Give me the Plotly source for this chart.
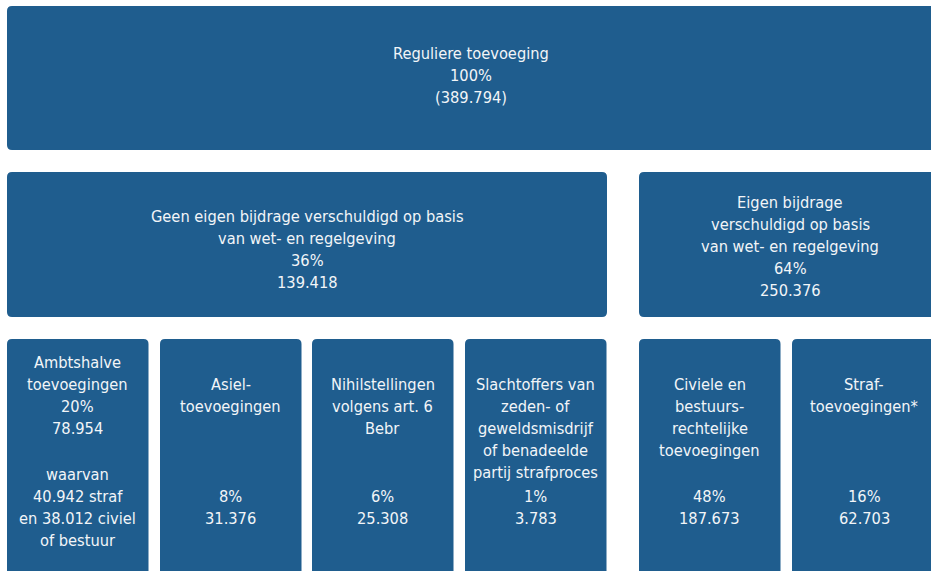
import plotly.graph_objects as go

# ---------------- data ----------------
labels = [
    "Reguliere toevoeging",
    "Geen eigen bijdrage verschuldigd op basis|van wet- en regelgeving",
    "Eigen bijdrage|verschuldigd op basis|van wet- en regelgeving",
    "Ambtshalve|toevoegingen",
    "Asiel-|toevoegingen",
    "Nihilstellingen|volgens art. 6|Bebr",
    "Slachtoffers van|zeden- of|geweldsmisdrijf|of benadeelde|partij strafproces",
    "Civiele en|bestuurs-|rechtelijke|toevoegingen",
    "Straf-|toevoegingen*",
]
percentages = [100, 36, 64, 20, 8, 6, 1, 48, 16]
counts = ["(389.794)", "139.418", "250.376", "78.954", "31.376", "25.308", "3.783", "187.673", "62.703"]
notes = ["", "", "", "waarvan|40.942 straf|en 38.012 civiel|of bestuur", "", "", "", "", ""]

# ---------------- layout (pixel grid) ----------------
W, H = 931, 571
# x0, x1, y0, y1, first label line y, first value line y, first note line y
boxes = [
    (7, 935, 6, 150, 53, 75, None),
    (7, 607, 172, 317, 216, 260, None),
    (639, 941, 172, 317, 202, 268, None),
    (7, 148.5, 339, 590, 362, 406, 474),
    (160, 301.5, 339, 590, 384, 496, None),
    (312, 453.5, 339, 590, 384, 496, None),
    (465, 606.5, 339, 590, 384, 496, None),
    (639, 780.5, 339, 590, 384, 496, None),
    (792, 936, 339, 590, 384, 496, None),
]
LINE = 22
R = 5
BOX_COLOR = "#1f5d8e"
TEXT_COLOR = "#f2f5f8"
FONT = "DejaVu Sans Condensed, DejaVu Sans, sans-serif"
FSIZE = 16.3


def rounded(x0, x1, y0, y1, r):
    return (f"M{x0+r},{y0} L{x1-r},{y0} Q{x1},{y0} {x1},{y0+r} "
            f"L{x1},{y1-r} Q{x1},{y1} {x1-r},{y1} L{x0+r},{y1} "
            f"Q{x0},{y1} {x0},{y1-r} L{x0},{y0+r} Q{x0},{y0} {x0+r},{y0} Z")


fig = go.Figure()
fig.add_trace(go.Scatter(x=[0, W], y=[0, H], mode="markers",
                         marker=dict(opacity=0), hoverinfo="skip", showlegend=False))

shapes = []
annotations = []


def add_lines(lines, xc, y_start):
    for i, t in enumerate(lines):
        annotations.append(dict(x=xc, y=y_start + i * LINE, xref="x", yref="y",
                                text=t, showarrow=False, xanchor="center", yanchor="middle",
                                font=dict(family=FONT, size=FSIZE, color=TEXT_COLOR)))


for i, (x0, x1, y0, y1, ly, vy, ny) in enumerate(boxes):
    shapes.append(dict(type="path", path=rounded(x0, x1, y0, y1, R), xref="x", yref="y",
                       fillcolor=BOX_COLOR, line=dict(width=0), layer="below"))
    xc = (x0 + x1) / 2
    add_lines(labels[i].split("|"), xc, ly)
    add_lines([f"{percentages[i]}%", counts[i]], xc, vy)
    if ny is not None and notes[i]:
        add_lines(notes[i].split("|"), xc, ny)

fig.update_layout(
    width=W, height=H,
    margin=dict(l=0, r=0, t=0, b=0),
    paper_bgcolor="white", plot_bgcolor="white",
    shapes=shapes, annotations=annotations,
    xaxis=dict(range=[0, W], visible=False, fixedrange=True),
    yaxis=dict(range=[H, 0], visible=False, fixedrange=True),
    showlegend=False,
)

fig.write_html("out.html", config={"displayModeBar": False},
               post_script="document.body.style.margin='0';document.body.style.overflow='hidden';")
